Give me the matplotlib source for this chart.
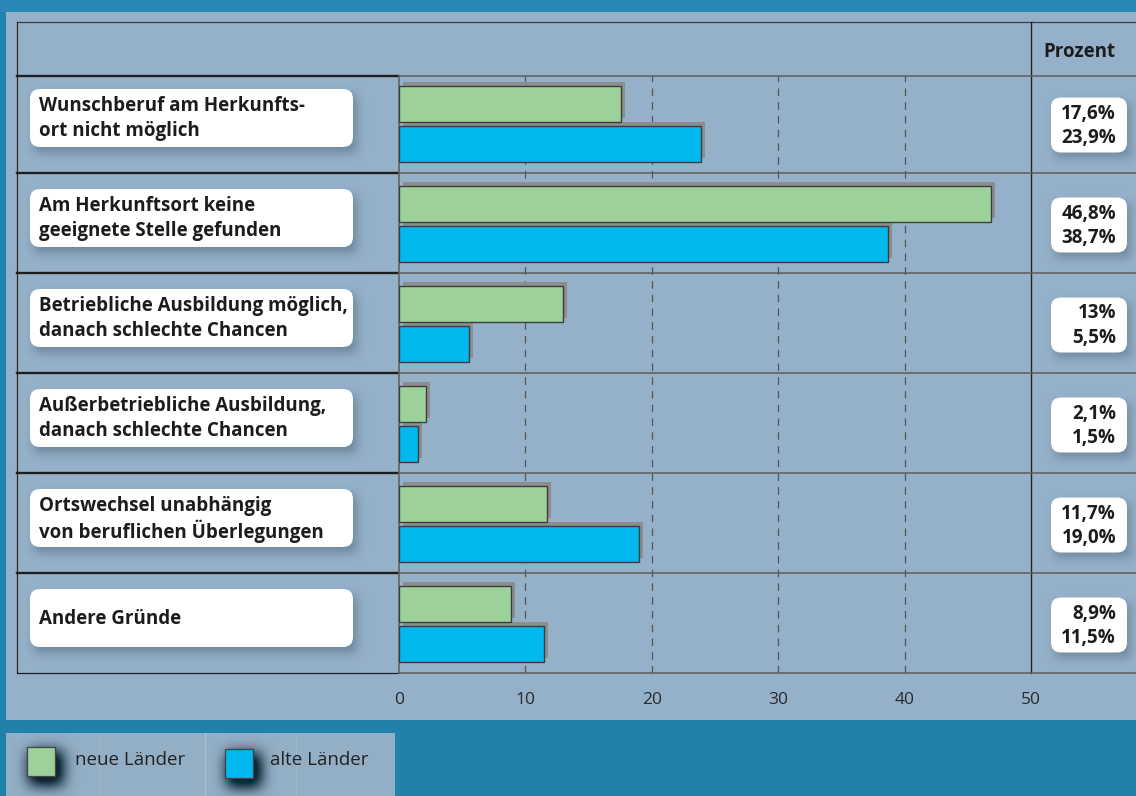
import numpy as np
import matplotlib
matplotlib.use("Agg")
import matplotlib.pyplot as plt
from matplotlib.patches import FancyBboxPatch, Rectangle
from matplotlib.transforms import ScaledTranslation

# ---- data ----
categories = [
    "Wunschberuf am Herkunfts-\nort nicht möglich",
    "Am Herkunftsort keine\ngeeignete Stelle gefunden",
    "Betriebliche Ausbildung möglich,\ndanach schlechte Chancen",
    "Außerbetriebliche Ausbildung,\ndanach schlechte Chancen",
    "Ortswechsel unabhängig\nvon beruflichen Überlegungen",
    "Andere Gründe",
]
neue_laender_txt = ["17,6", "46,8", "13", "2,1", "11,7", "8,9"]
alte_laender_txt = ["23,9", "38,7", "5,5", "1,5", "19,0", "11,5"]
neue_laender = [float(s.replace(",", ".")) for s in neue_laender_txt]
alte_laender = [float(s.replace(",", ".")) for s in alte_laender_txt]
x_ticks = [0, 10, 20, 30, 40, 50]
series_names = ["neue Länder", "alte Länder"]
header = "Prozent"

# ---- style ----
W, H, DPI = 1136, 796, 100
BG = "#2181ab"
PANEL = "#95b1c9"
GREEN = "#9dd19a"
BLUE = "#00b8ee"
SHADOW = "#8d8d8d"
EDGE = "#3d3d3d"
TXT = "#1c1c1c"
FONT = "Open Sans"
FS = 13.5
LINE_GAP = 25  # px between the two lines of a label

plt.rcParams["font.family"] = [FONT, "DejaVu Sans"]

fig = plt.figure(figsize=(W / DPI, H / DPI), dpi=DPI, facecolor=BG)

# full-figure pixel canvas for the decorations
deco = fig.add_axes([0, 0, 1, 1], zorder=0)
deco.set_xlim(0, W)
deco.set_ylim(H, 0)
deco.axis("off")
deco.set_autoscale_on(False)


def blur_shadow(ax, x0, y0, w, h, color, alpha, sigma, z):
    m = int(3 * sigma)
    nx, ny = int(w) + 2 * m, int(h) + 2 * m
    mask = np.zeros((ny, nx))
    mask[m:m + int(h), m:m + int(w)] = 1.0
    k = np.arange(-m, m + 1)
    g = np.exp(-k ** 2 / (2 * sigma ** 2))
    g /= g.sum()
    mask = np.apply_along_axis(lambda r: np.convolve(r, g, mode="same"), 1, mask)
    mask = np.apply_along_axis(lambda c: np.convolve(c, g, mode="same"), 0, mask)
    rgb = matplotlib.colors.to_rgb(color)
    img = np.zeros((ny, nx, 4))
    img[..., :3] = rgb
    img[..., 3] = np.clip(mask * alpha, 0, 1)
    ax.imshow(img, extent=(x0 - m, x0 - m + nx, y0 - m + ny, y0 - m),
              aspect="auto", zorder=z, interpolation="bilinear")


def lines_text(ax, x, cy, text, **kw):
    parts = text.split("\n")
    for j, line in enumerate(parts):
        yy = cy + (j - (len(parts) - 1) / 2) * LINE_GAP
        ax.text(x, yy, line, va="center", **kw)


# background panels
deco.add_patch(Rectangle((0, 0), W, 12, facecolor="#2a88b8", edgecolor="none", zorder=0.4))
deco.add_patch(Rectangle((6, 12), W - 6, 708, facecolor=PANEL, edgecolor="none", zorder=0.5))
deco.add_patch(Rectangle((6, 733), 389, 70, facecolor="#93afc6", edgecolor="none", zorder=0.5))
deco.plot([205, 205], [733, 796], color="#a9c0d3", lw=0.8, zorder=0.6)
deco.plot([99, 99], [733, 796], color="#a0b9cd", lw=0.6, zorder=0.6)
deco.plot([296, 296], [733, 796], color="#a0b9cd", lw=0.6, zorder=0.6)

# table geometry: six rows of 100 px between y=73 and y=673
top_row, bottom_row = 73, 673
n = len(categories)
row_h = (bottom_row - top_row) / n
row_c = [top_row + row_h * (i + 0.5) for i in range(n)]
seps = [76] + [top_row + row_h * k for k in range(1, n + 1)]

# frame
deco.plot([17, W], [22, 22], color="#3a3a3a", lw=0.9, zorder=3)
deco.plot([17, 17], [22, bottom_row], color="#2a2a2a", lw=0.9, zorder=3)
deco.plot([1031, 1031], [22, bottom_row], color="#222222", lw=1.0, zorder=3)
for k, yk in enumerate(seps):
    lw_left = 1.7 if k < n else 0.9
    deco.plot([17, 398], [yk, yk], color="#1e1e1e", lw=lw_left, zorder=3)
    deco.plot([399, W], [yk, yk], color="#5c5c5c", lw=1.1, zorder=3)

# category label boxes
for i, lab in enumerate(categories):
    cy = row_c[i] - 5
    bx, bw, bh = 30, 323, 58
    blur_shadow(deco, bx + 4, cy - bh / 2 + 6, bw, bh, "#4d6478", 0.55, 5, 1)
    deco.add_patch(FancyBboxPatch((bx, cy - bh / 2), bw, bh,
                                  boxstyle="round,pad=0,rounding_size=10",
                                  facecolor="white", edgecolor="none", zorder=2))
    lines_text(deco, 39, cy + 0.5, lab, ha="left", fontsize=FS,
               fontweight="bold", color=TXT, zorder=4)

# value boxes
for i in range(n):
    cy = row_c[i] + 2
    bx, bw, bh = 1051, 76, 55
    blur_shadow(deco, bx + 4, cy - bh / 2 + 6, bw, bh, "#4d6478", 0.5, 5, 1)
    deco.add_patch(FancyBboxPatch((bx, cy - bh / 2), bw, bh,
                                  boxstyle="round,pad=0,rounding_size=10",
                                  facecolor="white", edgecolor="none", zorder=2))
    deco.text(1116, cy - 11.5, neue_laender_txt[i] + "%", ha="right", va="center",
              fontsize=FS, fontweight="bold", color=TXT, zorder=4)
    deco.text(1116, cy + 13, alte_laender_txt[i] + "%", ha="right", va="center",
              fontsize=FS, fontweight="bold", color=TXT, zorder=4)

deco.text(1079, 52, header, ha="center", va="center", fontsize=FS,
          fontweight="bold", color=TXT, zorder=4)

# ---- bar axes ----
ax = fig.add_axes([399 / W, 1 - bottom_row / H, (1031 - 399) / W, (bottom_row - top_row) / H],
                  zorder=2)
ax.patch.set_alpha(0)
y = np.arange(n)
bh_bar = 0.36
y_new = y - 0.19
y_old = y + 0.21

shift = ScaledTranslation(4 / DPI, 4 / DPI, fig.dpi_scale_trans)
for yy, vals in ((y_new, neue_laender), (y_old, alte_laender)):
    ax.barh(yy, vals, height=bh_bar, color=SHADOW, edgecolor="none",
            transform=ax.transData + shift, zorder=2)
ax.barh(y_new, neue_laender, height=bh_bar, color=GREEN, edgecolor=EDGE, lw=1.0, zorder=3)
ax.barh(y_old, alte_laender, height=bh_bar, color=BLUE, edgecolor=EDGE, lw=1.0, zorder=3)

ax.set_xlim(0, 50)
ax.set_ylim(n - 0.5, -0.5)
ax.set_yticks([])
ax.set_xticks(x_ticks)
ax.set_xticklabels([str(t) for t in x_ticks], fontsize=12.5, color="#2a2a2a")
ax.tick_params(axis="x", length=0, pad=14)
for t in x_ticks[1:-1]:
    ax.axvline(t, ymax=1 - 3 / 600, color="#555555", lw=0.9, ls=(0, (6, 5)), zorder=1)
for s in ("top", "bottom", "right"):
    ax.spines[s].set_visible(False)
ax.spines["left"].set_color("#5c5c5c")
ax.spines["left"].set_linewidth(1.1)
ax.spines["left"].set_bounds(n - 0.5, -0.47)

# ---- legend ----
leg = [(27, 747, GREEN, 75, series_names[0]), (225, 749, BLUE, 270, series_names[1])]
for sx, sy, col, tx, name in leg:
    blur_shadow(deco, sx + 2, sy + 4, 34, 34, "#0f2736", 1.4, 7, 5)
    deco.add_patch(Rectangle((sx, sy), 28, 29, facecolor=col, edgecolor="#444444",
                             lw=0.9, zorder=6))
    deco.text(tx, 760, name, ha="left", va="center", fontsize=FS, color="#222222", zorder=6)

fig.savefig("out.png", dpi=DPI, facecolor=BG)
